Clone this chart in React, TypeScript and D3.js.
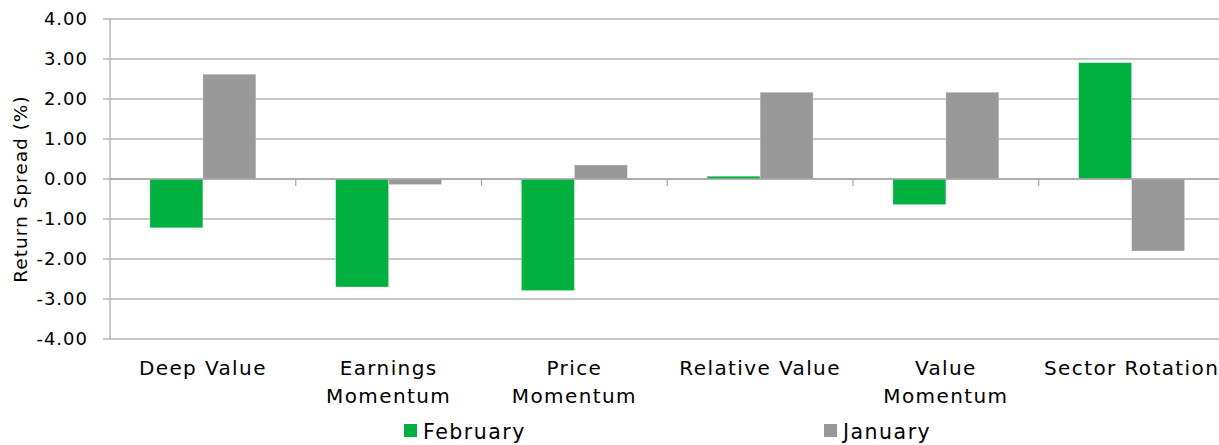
import * as d3 from 'd3';

const categories = [
  ['Deep Value'],
  ['Earnings', 'Momentum'],
  ['Price', 'Momentum'],
  ['Relative Value'],
  ['Value', 'Momentum'],
  ['Sector Rotation'],
];
const february = [-1.22, -2.7, -2.79, 0.07, -0.64, 2.91];
const january = [2.62, -0.14, 0.35, 2.17, 2.17, -1.8];
const yTicks = [4, 3, 2, 1, 0, -1, -2, -3, -4];
const seriesNames = ['February', 'January'];
const colors = ['#00b140', '#999999'];

const width = 1219;
const height = 445;
const margin = { top: 19, bottom: 106, left: 110 };
const plotRight = 1224.5; // the plot area runs a bit past the image edge
const font = '"DejaVu Sans", Verdana, sans-serif';

const App = () => {
  const keys = categories.map((c) => c.join(' '));
  const x = d3.scaleBand<string>()
    .domain(keys)
    .range([margin.left, plotRight])
    .paddingInner(0)
    .paddingOuter(0);
  const inner = d3.scaleBand<string>()
    .domain(seriesNames)
    .range([0, x.bandwidth()])
    .paddingOuter(0.752)
    .paddingInner(0);
  const y = d3.scaleLinear()
    .domain([-4, 4])
    .range([height - margin.bottom, margin.top]);

  const series = [february, january];
  const fmt = (t: number) => d3.format('.2f')(t).replace('\u2212', '-');

  return (
    <svg width={width} height={height} style={{ position: 'absolute', left: 0, top: 0, fontFamily: font }}>
      {/* grid */}
      {yTicks.map((t) => (
        <line key={'g' + t} x1={margin.left} x2={width} y1={y(t)} y2={y(t)}
          stroke="#b3b3b3" strokeWidth={1.5} />
      ))}
      {/* y axis */}
      <line x1={margin.left} x2={margin.left} y1={y(4)} y2={y(-4)} stroke="#a6a6a6" strokeWidth={1.2} />
      {yTicks.map((t) => (
        <g key={'t' + t}>
          <line x1={margin.left - 7} x2={margin.left} y1={y(t)} y2={y(t)} stroke="#a6a6a6" strokeWidth={1.2} />
          <text x={88} y={y(t)} dy="0.36em" textAnchor="end" fontSize={18} letterSpacing={1} fill="#000">
            {fmt(t)}
          </text>
        </g>
      ))}
      <text transform={`translate(27, ${y(0) + 10}) rotate(-90)`} textAnchor="middle" fontSize={18.5} letterSpacing={1} fill="#000">
        Return Spread (%)
      </text>

      {/* bars */}
      {series.map((vals, si) => (
        <g key={'s' + si}>
          {vals.map((v, i) => (
            <rect key={i}
              x={(x(keys[i]) ?? 0) + (inner(seriesNames[si]) ?? 0)}
              y={y(Math.max(0, v))}
              width={inner.bandwidth()}
              height={Math.abs(y(v) - y(0))}
              fill={colors[si]}
              stroke="#ffffff" strokeOpacity={0.4} strokeWidth={0.8} />
          ))}
        </g>
      ))}

      {/* x axis at zero */}
      <line x1={margin.left} x2={width} y1={y(0)} y2={y(0)} stroke="#a6a6a6" strokeWidth={1.5} />
      {keys.slice(1).map((k) => (
        <line key={'xt' + k} x1={x(k)} x2={x(k)} y1={y(0)} y2={y(0) + 7} stroke="#a6a6a6" strokeWidth={1.2} />
      ))}

      {/* category labels */}
      {categories.map((lines, i) => (
        <text key={'c' + i} x={(x(keys[i]) ?? 0) + x.bandwidth() / 2} y={375} textAnchor="middle" fontSize={20} letterSpacing={1.4} fill="#000">
          {lines.map((l, j) => (
            <tspan key={j} x={(x(keys[i]) ?? 0) + x.bandwidth() / 2} dy={j === 0 ? 0 : 28}>{l}</tspan>
          ))}
        </text>
      ))}

      {/* legend */}
      {seriesNames.map((name, i) => {
        const lx = [404, 824][i];
        return (
          <g key={'l' + name}>
            <rect x={lx} y={424} width={13} height={13} fill={colors[i]} />
            <text x={lx + 19} y={439} fontSize={20.5} letterSpacing={1.5} fill="#000">{name}</text>
          </g>
        );
      })}
    </svg>
  );
};

export default App;
